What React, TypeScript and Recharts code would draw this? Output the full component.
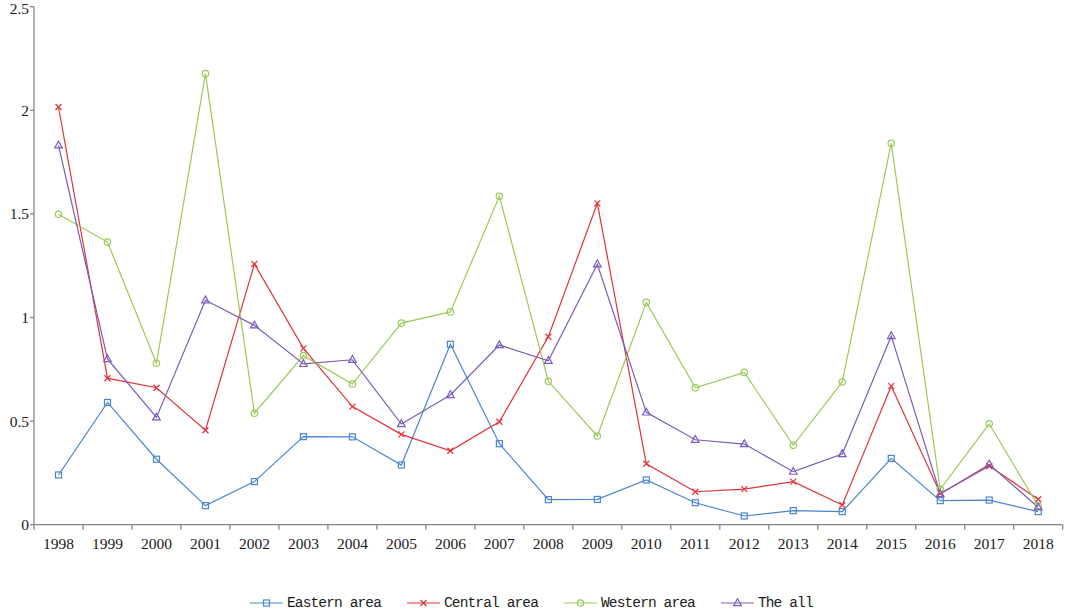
import React from 'react'
import { LineChart, Line, XAxis, YAxis, Legend } from 'recharts'

const years = [
  '1998', '1999', '2000', '2001', '2002', '2003', '2004', '2005', '2006', '2007', '2008',
  '2009', '2010', '2011', '2012', '2013', '2014', '2015', '2016', '2017', '2018',
]

const eastern = [
  0.24, 0.59, 0.316, 0.092, 0.208, 0.425, 0.424, 0.288, 0.871, 0.391, 0.121,
  0.122, 0.216, 0.106, 0.042, 0.068, 0.063, 0.32, 0.116, 0.119, 0.063,
]
const central = [
  2.016, 0.707, 0.661, 0.456, 1.258, 0.851, 0.57, 0.436, 0.357, 0.497, 0.907,
  1.551, 0.294, 0.159, 0.172, 0.208, 0.095, 0.669, 0.151, 0.283, 0.123,
]
const western = [
  1.498, 1.364, 0.779, 2.177, 0.538, 0.816, 0.679, 0.973, 1.027, 1.585, 0.692,
  0.428, 1.073, 0.661, 0.735, 0.383, 0.689, 1.841, 0.171, 0.487, 0.09,
]
const theAll = [
  1.831, 0.8, 0.518, 1.083, 0.962, 0.776, 0.796, 0.486, 0.626, 0.867, 0.791,
  1.257, 0.542, 0.41, 0.389, 0.256, 0.341, 0.911, 0.148, 0.291, 0.084,
]

const yTicks = [0, 0.5, 1, 1.5, 2, 2.5]

const data = years.map((year, i) => ({
  year,
  eastern: eastern[i],
  central: central[i],
  western: western[i],
  theAll: theAll[i],
}))

type Shape = 'square' | 'cross' | 'circle' | 'triangle'

const series: { key: string; name: string; color: string; shape: Shape }[] = [
  { key: 'eastern', name: 'Eastern area', color: '#4a85d0', shape: 'square' },
  { key: 'central', name: 'Central area', color: '#e0333a', shape: 'cross' },
  { key: 'western', name: 'Western area', color: '#9bc95a', shape: 'circle' },
  { key: 'theAll', name: 'The all', color: '#7a5cb8', shape: 'triangle' },
]

const W = 1065
const H = 611
const AXIS_X = 34
const RIGHT = 2.3
const BAND = (W - AXIS_X - RIGHT) / years.length
const AXIS_COLOR = '#868686'
const SERIF = '"Liberation Serif", "Times New Roman", serif'

function Marker({ cx, cy, shape, color }: { cx: number; cy: number; shape: Shape; color: string }) {
  const p = { fill: 'none', stroke: color, strokeWidth: 1.2 }
  if (shape === 'square') return <rect x={cx - 3} y={cy - 3} width={6} height={6} {...p} />
  if (shape === 'circle') return <circle cx={cx} cy={cy} r={3.2} {...p} />
  if (shape === 'triangle')
    return <path d={`M${cx},${cy - 4.2} L${cx + 3.8},${cy + 2.6} L${cx - 3.8},${cy + 2.6} Z`} {...p} />
  return <path d={`M${cx - 3},${cy - 3} L${cx + 3},${cy + 3} M${cx + 3},${cy - 3} L${cx - 3},${cy + 3}`} {...p} />
}

function dotFor(shape: Shape, color: string) {
  return (props: any) => {
    const { cx, cy, index } = props
    if (cx == null || cy == null) return <g key={`d-${index}`} />
    return (
      <g key={`d-${shape}-${index}`}>
        <Marker cx={cx} cy={cy} shape={shape} color={color} />
      </g>
    )
  }
}

// year labels sit mid-band; tick marks sit on the band edges
function YearTick(props: any) {
  const { x, y, payload, index } = props
  const top = y - 5
  const left = x - BAND / 2
  const right = x + BAND / 2
  return (
    <g>
      <line x1={left} y1={top} x2={left} y2={y} stroke={AXIS_COLOR} strokeWidth={1.3} />
      {index === years.length - 1 && (
        <line x1={right} y1={top} x2={right} y2={y} stroke={AXIS_COLOR} strokeWidth={1.3} />
      )}
      <text x={x} y={y} dy={19} textAnchor="middle" fontFamily={SERIF} fontSize={15.5} fill="#1a1a1a">
        {payload.value}
      </text>
    </g>
  )
}

// keep the top label (2.5) inside the page
function ValueTick(props: any) {
  const { x, y, payload } = props
  return (
    <text x={x} y={Math.max(y, 8.5)} dy="0.355em" textAnchor="end" fontFamily={SERIF} fontSize={15.5} fill="#1a1a1a">
      {String(payload.value)}
    </text>
  )
}

function LegendContent() {
  return (
    <div style={{ display: 'flex', paddingLeft: 250, alignItems: 'center', height: 16 }}>
      {series.map((s) => (
        <div key={s.key} style={{ display: 'flex', alignItems: 'center', marginRight: 26 }}>
          <svg width={33} height={10} style={{ display: 'block' }}>
            <line x1={0} y1={5} x2={33} y2={5} stroke={s.color} strokeWidth={1.2} />
            <Marker cx={16.5} cy={5} shape={s.shape} color={s.color} />
          </svg>
          <span
            style={{
              marginLeft: 4,
              fontFamily: '"Liberation Mono", monospace',
              fontSize: 14.5,
              letterSpacing: -0.87,
              color: '#1a1a1a',
              whiteSpace: 'nowrap',
              lineHeight: '16px',
            }}
          >
            {s.name}
          </span>
        </div>
      ))}
    </div>
  )
}

export default function App() {
  return (
    <div style={{ position: 'absolute', left: 0, top: 0, width: W, height: H, background: '#fff' }}>
      <LineChart width={W} height={H} data={data} margin={{ top: 6.7, right: RIGHT, bottom: 0, left: 0 }}>
        <XAxis
          dataKey="year"
          scale="band"
          interval={0}
          height={70.3}
          tickSize={5}
          tickMargin={0}
          tickLine={false}
          tick={<YearTick />}
          axisLine={{ stroke: AXIS_COLOR, strokeWidth: 1.3 }}
        />
        <YAxis
          width={AXIS_X}
          domain={[0, 2.5]}
          ticks={yTicks}
          interval={0}
          tickSize={4}
          tickMargin={1}
          tick={<ValueTick />}
          tickLine={{ stroke: AXIS_COLOR, strokeWidth: 1.3 }}
          axisLine={{ stroke: AXIS_COLOR, strokeWidth: 1.3 }}
        />
        <Legend verticalAlign="bottom" height={16} content={<LegendContent />} wrapperStyle={{ left: 0, width: W }} />
        {series.map((s) => (
          <Line
            key={s.key}
            type="linear"
            dataKey={s.key}
            name={s.name}
            stroke={s.color}
            strokeWidth={1.2}
            dot={dotFor(s.shape, s.color)}
            activeDot={false}
            isAnimationActive={false}
          />
        ))}
      </LineChart>
    </div>
  )
}
